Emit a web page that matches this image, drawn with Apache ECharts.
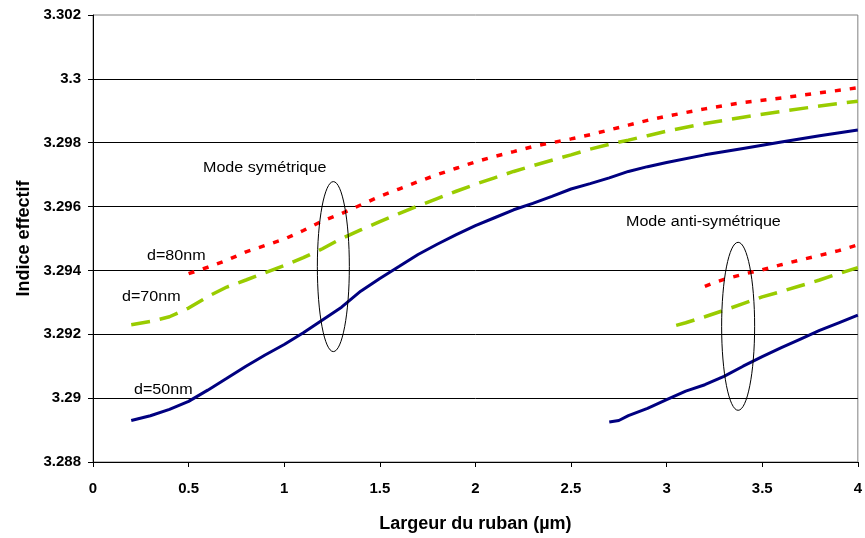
<!DOCTYPE html>
<html>
<head>
<meta charset="utf-8">
<script src="https://cdn.jsdelivr.net/npm/echarts@6/dist/echarts.min.js"></script>
<style>
html,body{margin:0;padding:0;background:#fff;}
#c{width:865px;height:538px;}
</style>
</head>
<body>
<div id="c"></div>
<script>
// Symmetric mode
var xSym50 = [0.2,0.3,0.4,0.5,0.6,0.7,0.8,0.9,1.0,1.1,1.2,1.3,1.4,1.5,1.6,1.7,1.8,1.9,2.0,2.1,2.2,2.3,2.4,2.5,2.6,2.7,2.8,2.9,3.0,3.2,3.4,3.6,3.8,4.0];
var ySym50 = [3.28930,3.28945,3.28965,3.28990,3.29025,3.29062,3.29100,3.29135,3.29168,3.29205,3.29245,3.29285,3.29335,3.29375,3.29412,3.29450,3.29482,3.29512,3.29540,3.29565,3.29590,3.29610,3.29632,3.29655,3.29672,3.29690,3.29710,3.29725,3.29738,3.29762,3.29782,3.29802,3.29822,3.29840];
var xSym70 = [0.2,0.3,0.4,0.5,0.6,0.7,0.8,0.9,1.0,1.1,1.2,1.3,1.4,1.5,1.6,1.7,1.8,1.9,2.0,2.1,2.2,2.3,2.4,2.5,2.6,2.7,2.8,2.9,3.0,3.2,3.4,3.6,3.8,4.0];
var ySym70 = [3.29230,3.29240,3.29255,3.29282,3.29318,3.29348,3.29370,3.29393,3.29415,3.29440,3.29468,3.29500,3.29527,3.29553,3.29578,3.29602,3.29625,3.29648,3.29670,3.29690,3.29710,3.29728,3.29745,3.29762,3.29780,3.29795,3.29808,3.29822,3.29836,3.29860,3.29880,3.29898,3.29915,3.29930];
var xSym80 = [0.5,0.6,0.7,0.8,0.9,1.0,1.1,1.2,1.3,1.4,1.5,1.6,1.7,1.8,1.9,2.0,2.1,2.2,2.3,2.4,2.5,2.6,2.7,2.8,2.9,3.0,3.2,3.4,3.6,3.8,4.0];
var ySym80 = [3.29390,3.29410,3.29432,3.29458,3.29478,3.29498,3.29525,3.29555,3.29578,3.29605,3.29632,3.29655,3.29678,3.29700,3.29720,3.29740,3.29757,3.29772,3.29788,3.29800,3.29812,3.29825,3.29840,3.29855,3.29870,3.29883,3.29906,3.29926,3.29940,3.29956,3.29972];
// Anti-symmetric mode
var xAnti50 = [2.7,2.75,2.8,2.9,3.0,3.1,3.2,3.3,3.4,3.5,3.6,3.7,3.8,3.9,4.0];
var yAnti50 = [3.28925,3.28930,3.28945,3.28968,3.28995,3.29022,3.29042,3.29068,3.29100,3.29130,3.29158,3.29185,3.29212,3.29236,3.29260];
var xAnti70 = [3.05,3.1,3.2,3.3,3.4,3.5,3.6,3.7,3.8,3.9,4.0];
var yAnti70 = [3.29228,3.29236,3.29255,3.29275,3.29296,3.29317,3.29334,3.29352,3.29370,3.29390,3.29409];
var xAnti80 = [3.2,3.25,3.3,3.4,3.5,3.6,3.7,3.8,3.9,4.0];
var yAnti80 = [3.29350,3.29362,3.29372,3.29388,3.29402,3.29418,3.29433,3.29447,3.29462,3.29480];
// Annotation anchors (data coords)
var ellipseSym = [1.257, 3.29412];
var ellipseAnti = [3.374, 3.29225];

function pairs(xs, ys){ return xs.map(function(x,i){ return [x, ys[i]]; }); }

var FONT = 'Liberation Sans, Arial, sans-serif';
var navy = '#000080', green = '#99CC00', red = '#FF0000';

var chart = echarts.init(document.getElementById('c'), null, {renderer:'canvas'});

function lineSeries(data, color, type, width){
  return {type:'line', data:data, showSymbol:false, symbol:'none', smooth:false,
    lineStyle:{color:color, width:width, type:type, cap:'butt'}, animation:false, z:3};
}

chart.setOption({
  backgroundColor:'#fff',
  animation:false,
  grid:{left:93, right:5, top:15, bottom:75, show:true, borderColor:'#808080', borderWidth:1, backgroundColor:'transparent'},
  xAxis:{type:'value', min:0, max:4, interval:0.5,
    axisLine:{show:true, onZero:false, lineStyle:{color:'#000', width:1}},
    axisTick:{show:true, length:5, lineStyle:{color:'#000'}},
    splitLine:{show:false},
    axisLabel:{color:'#000', fontFamily:FONT, fontWeight:'bold', fontSize:15, margin:19},
    name:'Largeur du ruban (µm)', nameLocation:'middle', nameGap:53,
    nameTextStyle:{color:'#000', fontFamily:FONT, fontWeight:'bold', fontSize:18}
  },
  yAxis:{type:'value', min:3.288, max:3.302, interval:0.002,
    axisLine:{show:true, lineStyle:{color:'#000', width:1}},
    axisTick:{show:true, length:5, lineStyle:{color:'#000'}},
    splitLine:{show:true, showMaxLine:false, lineStyle:{color:'#000', width:1}},
    axisLabel:{color:'#000', fontFamily:FONT, fontWeight:'bold', fontSize:15, margin:12,
      formatter:function(v){ return String(parseFloat(v.toFixed(3))); }},
    name:'Indice effectif', nameLocation:'middle', nameGap:60,
    nameTextStyle:{color:'#000', fontFamily:FONT, fontWeight:'bold', fontSize:18}
  },
  series:[
    lineSeries(pairs(xSym50, ySym50), navy, 'solid', 3),
    lineSeries(pairs(xSym70, ySym70), green, [19,10], 3.5),
    lineSeries(pairs(xSym80, ySym80), red, [6,9], 3.5),
    lineSeries(pairs(xAnti50, yAnti50), navy, 'solid', 3),
    lineSeries(pairs(xAnti70, yAnti70), green, [19,10], 3.5),
    lineSeries(pairs(xAnti80, yAnti80), red, [6,9], 3.5)
  ]
});

var p1 = chart.convertToPixel({gridIndex:0}, ellipseSym);
var p2 = chart.convertToPixel({gridIndex:0}, ellipseAnti);
function txt(x, y, s){
  return {type:'text', x:x, y:y, scaleX:1.15, z:10, style:{text:s, fill:'#000', font:'14px ' + FONT, textVerticalAlign:'middle'}};
}
chart.setOption({
  graphic:[
    {type:'ellipse', shape:{cx:p1[0], cy:p1[1], rx:16, ry:85}, style:{fill:'none', stroke:'#000', lineWidth:1}, z:10},
    {type:'ellipse', shape:{cx:p2[0], cy:p2[1], rx:16.5, ry:84}, style:{fill:'none', stroke:'#000', lineWidth:1}, z:10},
    txt(203, 168, 'Mode symétrique'),
    txt(626, 222, 'Mode anti-symétrique'),
    txt(147, 256, 'd=80nm'),
    txt(122, 297, 'd=70nm'),
    txt(134, 390, 'd=50nm')
  ]
});
</script>
</body>
</html>
